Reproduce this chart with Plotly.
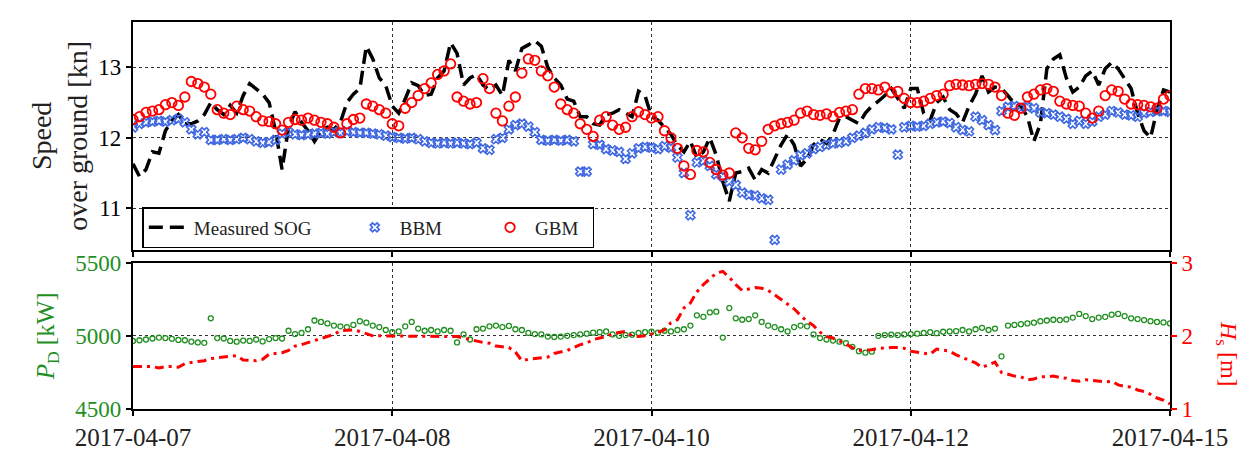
import plotly.graph_objects as go

# sample index along the voyage; date labels at selected samples
tick_idx = [0, 40, 80, 120, 160]
tick_labels = ["2017-04-07", "2017-04-08", "2017-04-10", "2017-04-12", "2017-04-15"]

sog = [11.63, 11.45, 11.55, 11.8, 11.78, 12.1, 12.25, 12.33, 12.2, 12.2,
       12.24, 12.33, 12.5, 12.4, 12.33, 12.46, 12.35, 12.6, 12.77, 12.7,
       12.62, 12.5, 12.1, 11.55, 12.15, 12.37, 12.22, 12.1, 11.95, 12.1,
       12.15, 12.12, 12.22, 12.5, 12.62, 12.7, 13.3, 13.12, 12.85, 12.74,
       12.45, 12.35, 12.55, 12.78, 12.74, 12.6, 12.62, 12.85, 12.95, 13.35,
       13.2, 12.75, 12.85, 12.9, 12.75, 12.68, 12.75, 12.6, 13.1, 12.95,
       13.27, 13.32, 13.38, 13.3, 13.0, 12.85, 12.75, 12.55, 12.52, 12.3,
       12.3, 12.2, 12.18, 12.33, 12.35, 12.4, 12.35, 12.3, 12.66, 12.6,
       12.3, 12.25, 12.15, 12.05, 11.89, 11.8, 11.95, 11.72, 11.8, 12.0,
       11.75, 11.38, 11.1, 11.5, 11.52, 11.57, 11.4, 11.55, 11.5, 11.7,
       11.9, 12.05, 11.9, 11.6, 11.7, 11.9, 11.98, 11.92, 12.05, 12.28,
       12.3, 12.25, 12.2, 12.35, 12.45, 12.52, 12.6, 12.7, 12.55, 12.42,
       12.7, 12.7, 12.35, 12.25, 12.5, 12.58, 12.4, 12.34, 12.22, 12.45,
       12.62, 12.88, 12.65, 12.72, 12.7, 12.6, 12.48, 12.45, 12.3, 11.95,
       12.2, 12.98, 13.12, 13.18, 12.85, 12.65, 12.72, 12.88, 12.95, 12.75,
       12.98, 13.07, 12.98, 12.85, 12.7, 12.35, 12.1, 12.0, 12.4, 12.68,
       12.65]

bbm = [12.15, 12.2, 12.22, 12.23, 12.24, 12.23, 12.25, 12.27, 12.22, 12.12,
       12.05, 12.08, 11.97, 11.97, 11.98, 11.97, 11.98, 12.0, 11.98, 11.95,
       11.93, 11.94, 11.97, 12.06, 12.08, 12.05, 12.04, 12.05, 12.06, 12.07,
       12.06, 12.08, 12.07, 12.09, 12.08, 12.07, 12.07, 12.06, 12.05, 12.03,
       12.01, 12.0, 11.99, 12.0, 11.98, 11.95, 11.93, 11.92, 11.93, 11.92,
       11.93, 11.92, 11.91, 11.93, 11.85, 11.83, 11.98, 12.0, 12.12, 12.18,
       12.2, 12.16, 12.08, 11.97, 11.96, 11.97, 11.96, 11.97, 11.95, 11.52,
       11.52, 11.91, 11.9, 11.84, 11.82, 11.8, 11.7, 11.78, 11.85, 11.87,
       11.86, 11.84, 11.88, 11.86, 11.72, 11.5, 10.9, 11.65, 11.67, 11.6,
       11.48, 11.45, 11.38, 11.33, 11.22, 11.19, 11.18, 11.14, 11.12, 10.55,
       11.55, 11.62, 11.68, 11.75, 11.78, 11.84, 11.87, 11.9, 11.92, 11.93,
       11.95, 12.0, 12.03, 12.07, 12.12, 12.15, 12.14, 12.12, 11.76, 12.15,
       12.17, 12.16, 12.17, 12.2, 12.22, 12.23, 12.21, 12.15, 12.11, 12.09,
       12.3, 12.25, 12.18, 12.11, 12.38, 12.44, 12.45, 12.43, 12.44, 12.42,
       12.36, 12.35, 12.33, 12.3, 12.27, 12.2, 12.24, 12.2, 12.23, 12.3,
       12.33, 12.38, 12.36, 12.33, 12.32, 12.3, 12.35, 12.37, 12.38, 12.38,
       12.37]

gbm = [12.26, 12.3, 12.36, 12.38, 12.4, 12.47, 12.5, 12.46, 12.58, 12.8,
       12.77, 12.72, 12.62, 12.4, 12.35, 12.33, 12.45, 12.4, 12.38, 12.3,
       12.24, 12.23, 12.2, 12.11, 12.22, 12.26, 12.25, 12.28, 12.25, 12.22,
       12.2, 12.15, 12.07, 12.2, 12.26, 12.28, 12.48, 12.45, 12.4, 12.35,
       12.2, 12.17, 12.42, 12.5, 12.6, 12.7, 12.78, 12.9, 12.95, 13.05,
       12.58, 12.52, 12.48, 12.5, 12.84, 12.7, 12.35, 12.24, 12.45, 12.58,
       12.92, 13.12, 13.1, 12.95, 12.88, 12.72, 12.48, 12.4, 12.35, 12.2,
       12.12, 12.02, 12.25, 12.3, 12.18, 12.12, 12.15, 12.3, 12.37, 12.33,
       12.28, 12.3, 12.1, 12.0, 11.85, 11.6, 11.48, 11.82, 11.8, 11.65,
       11.55, 11.47, 11.5, 12.07, 12.0, 11.85, 11.83, 11.95, 12.12, 12.17,
       12.2, 12.22, 12.25, 12.35, 12.38, 12.33, 12.32, 12.34, 12.3, 12.36,
       12.38, 12.4, 12.62, 12.7, 12.7, 12.68, 12.72, 12.64, 12.66, 12.56,
       12.5, 12.5, 12.52, 12.56, 12.6, 12.62, 12.74, 12.76, 12.75, 12.74,
       12.76, 12.77, 12.76, 12.72, 12.6, 12.35, 12.32, 12.42, 12.58, 12.62,
       12.68, 12.7, 12.66, 12.52, 12.48, 12.46, 12.45, 12.35, 12.28, 12.38,
       12.6, 12.68, 12.66, 12.55, 12.48, 12.47, 12.46, 12.44, 12.42, 12.55,
       12.6]

p_d = [4965, 4970, 4975, 4982, 4988, 4985, 4980, 4972, 4970, 4960,
       4955, 4952, 5120, 4985, 4982, 4965, 4960, 4968, 4965, 4975,
       4962, 4978, 4985, 4982, 5035, 5012, 5020, 5045, 5105, 5095,
       5085, 5070, 5065, 5060, 5075, 5100, 5090, 5070, 5060, 5040,
       5025, 5030, 5065, 5095, 5050, 5035, 5040, 5030, 5040, 5035,
       4955, 5010, 4975, 5045, 5050, 5065, 5070, 5060, 5068, 5045,
       5040, 5020, 5012, 5010, 4995, 4992, 4995, 5000, 5005, 5010,
       5015, 5022, 5025, 5030, 5010, 5000, 5005, 5008, 5020, 5025,
       5028, 5022, 5035, 5030, 5040, 5045, 5070, 5140, 5130, 5160,
       5165, 4988, 5190, 5120, 5110, 5115, 5140, 5095, 5070, 5060,
       5045, 5030, 5060, 5070, 5065, 5010, 4985, 4975, 4968, 4960,
       4950, 4925, 4895, 4885, 4892, 5000, 5005, 5008, 5005, 5010,
       5012, 5015, 5020, 5025, 5018, 5028, 5030, 5032, 5040, 5030,
       5045, 5055, 5040, 5050, 4860, 5070, 5075, 5080, 5085, 5090,
       5100, 5105, 5110, 5108, 5112, 5125, 5150, 5135, 5115, 5125,
       5130, 5145, 5150, 5135, 5120, 5115, 5108, 5100, 5095, 5092,
       5085]

h_s = [1.58, 1.58, 1.57, 1.58, 1.56, 1.58, 1.58, 1.57, 1.62, 1.64,
       1.65, 1.66, 1.69, 1.7, 1.71, 1.71, 1.73, 1.67, 1.67, 1.66,
       1.68, 1.75, 1.76, 1.77, 1.8, 1.86, 1.88, 1.91, 1.93, 1.97,
       2.0, 2.02, 2.07, 2.08, 2.08, 2.06, 2.03, 2.0, 2.0, 2.0,
       2.0, 2.0, 2.0, 2.0, 2.0, 2.0, 2.0, 2.0, 2.0, 2.0,
       1.99, 1.97, 1.95, 1.92, 1.91, 1.9, 1.86, 1.85, 1.84, 1.78,
       1.66, 1.68, 1.69, 1.7, 1.71, 1.76, 1.78, 1.8, 1.84, 1.88,
       1.9, 1.95, 1.97, 1.99, 2.03, 2.05, 2.06, 2.0, 1.99, 2.0,
       2.02, 2.05, 2.08, 2.18, 2.22, 2.38, 2.45, 2.6, 2.7, 2.78,
       2.86, 2.88, 2.8, 2.7, 2.62, 2.64, 2.66, 2.65, 2.62, 2.56,
       2.5, 2.44, 2.37, 2.28, 2.2, 2.14, 2.05, 1.99, 1.97, 1.93,
       1.88, 1.84, 1.8, 1.8, 1.81, 1.83, 1.84, 1.84, 1.84, 1.83,
       1.79, 1.78, 1.76, 1.75, 1.82, 1.81, 1.79, 1.74, 1.7, 1.67,
       1.63, 1.57, 1.6, 1.64, 1.5, 1.47, 1.45, 1.44, 1.4, 1.41,
       1.44, 1.44, 1.45, 1.43, 1.42, 1.39, 1.38, 1.4, 1.39, 1.38,
       1.37, 1.38, 1.33, 1.31, 1.3, 1.26, 1.24, 1.2, 1.15, 1.12,
       1.07]

idx = list(range(len(sog)))

FONT = "Liberation Serif"
BLUE = "#4169E1"
RED = "#FF0000"
GREEN = "#1f8f1f"
PAD = "\u00a0" * 7

fig = go.Figure()
fig.add_trace(go.Scatter(x=idx, y=sog, mode="lines", name="Measured SOG" + PAD,
                         line=dict(color="black", width=3.5, dash="14px,7px"),
                         xaxis="x", yaxis="y"))
fig.add_trace(go.Scatter(x=idx, y=bbm, mode="markers", name="BBM" + PAD + "\u00a0",
                         marker=dict(symbol="x-open", size=8, color=BLUE,
                                     line=dict(color=BLUE, width=1.6)),
                         xaxis="x", yaxis="y"))
fig.add_trace(go.Scatter(x=idx, y=gbm, mode="markers", name="GBM\u00a0\u00a0",
                         marker=dict(symbol="circle-open", size=9.5, color=RED,
                                     line=dict(color=RED, width=1.8)),
                         xaxis="x", yaxis="y"))
fig.add_trace(go.Scatter(x=idx, y=p_d, mode="markers", name="P_D", showlegend=False,
                         marker=dict(symbol="circle-open", size=5, color=GREEN,
                                     line=dict(color=GREEN, width=1.3)),
                         xaxis="x2", yaxis="y2"))
fig.add_trace(go.Scatter(x=idx, y=h_s, mode="lines", name="H_s", showlegend=False,
                         line=dict(color=RED, width=3, dash="9px,5px,3px,5px"),
                         xaxis="x2", yaxis="y3"))

axis_common = dict(showline=True, linecolor="black", linewidth=2.2, mirror=True,
                   ticks="outside", ticklen=5, tickwidth=1.5, tickcolor="black",
                   showgrid=True, gridcolor="#333333", griddash="dot", gridwidth=1.2,
                   zeroline=False, tickfont=dict(family=FONT, size=23, color="black"))

fig.update_layout(
    width=1251, height=461,
    margin=dict(l=133, r=81, t=10, b=33),
    paper_bgcolor="white", plot_bgcolor="white",
    font=dict(family=FONT, size=20, color="black"),
    xaxis=dict(axis_common, domain=[0, 1], anchor="y", range=[0, 160],
               tickvals=tick_idx, ticktext=tick_labels, showticklabels=False),
    yaxis=dict(axis_common, domain=[0.4115, 1], anchor="x", range=[10.41, 13.645],
               tickvals=[11, 12, 13],
               title=dict(text="Speed<br>over ground [kn]",
                          font=dict(family=FONT, size=28, color="#222222"), standoff=2)),
    xaxis2=dict(axis_common, domain=[0, 1], anchor="y2", range=[0, 160],
                tickvals=tick_idx, ticktext=tick_labels, matches="x",
                tickfont=dict(family=FONT, size=25, color="#222222")),
    yaxis2=dict(axis_common, domain=[0, 0.378], anchor="x2", range=[4500, 5500],
                tickvals=[4500, 5000, 5500],
                tickfont=dict(family=FONT, size=23, color=GREEN),
                title=dict(text="<i>P</i><sub>D</sub> [kW]",
                           font=dict(family=FONT, size=25, color=GREEN), standoff=14)),
    yaxis3=dict(overlaying="y2", side="right", anchor="x2", range=[1, 3],
                tickvals=[1, 2, 3], showgrid=False, zeroline=False,
                ticks="outside", ticklen=6, tickwidth=1.5, tickcolor=RED,
                tickfont=dict(family=FONT, size=23, color=RED)),
    legend=dict(orientation="h", x=0.009, y=0.416, xanchor="left", yanchor="bottom",
                bordercolor="black", borderwidth=1.5, bgcolor="white",
                font=dict(family=FONT, size=19, color="#222222"),
                itemwidth=40, tracegroupgap=0),
    annotations=[dict(text="<i>H</i><sub>s</sub> [m]", textangle=90,
                      xref="paper", yref="paper", x=1.055, y=0.142,
                      xanchor="center", yanchor="middle", showarrow=False,
                      font=dict(family=FONT, size=24, color=RED))],
)

fig.write_html("out.html")
